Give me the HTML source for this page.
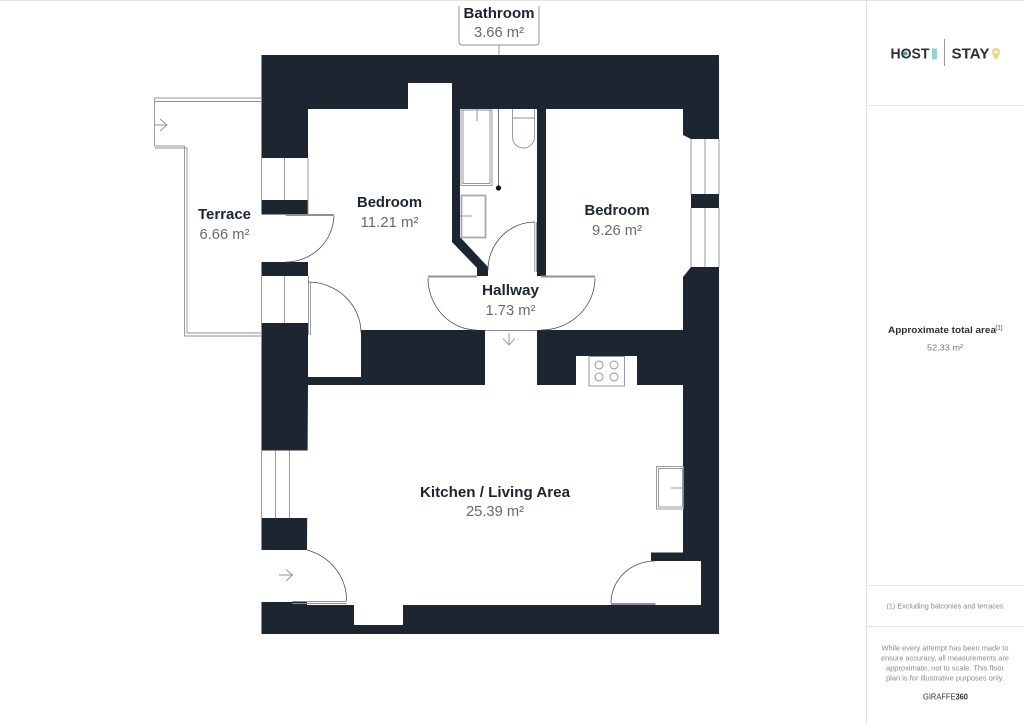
<!DOCTYPE html>
<html><head><meta charset="utf-8"><style>
html,body{margin:0;padding:0;background:#fff}
svg{display:block}
text{font-family:"Liberation Sans",sans-serif;text-anchor:middle}
.n{font-weight:bold;font-size:15px;fill:#1c2530}
.a{font-size:14.5px;fill:#666b70}
.l{fill:none;stroke:#8d9195;stroke-width:.9}
.d{fill:none;stroke:#4a5058;stroke-width:.8}
.s{font-size:7.4px;fill:#8a8a8a}
</style></head><body>
<svg width="1024" height="724" viewBox="0 0 1024 724" xmlns="http://www.w3.org/2000/svg">
<rect width="1024" height="724" fill="#fff"/>
<!-- walls -->
<rect x="261.5" y="55" width="457.5" height="579" fill="#1c2530"/>
<!-- left bedroom + hallway -->
<polygon fill="#fff" points="308,109 408,109 408,83 452,83 452,242 477,268 477,276 488,276 488,267 460,237 460,109 537,109 537,276 546,276 546,109 683,109 683,135 691,139 719,139 719,267 691,267 683,277 683,330 537,330 537,385 485,385 485,330 361,330 361,377 308,377"/>
<!-- kitchen -->
<polygon fill="#fff" points="308,385 576,385 576,356 637,356 637,385 683,385 683,552.500 651,552.500 651,561 701,561 701,605 403,605 403,625 354,625 354,605 307,605 307,602 261.500,602 261.500,550 307,550"/>
<polygon fill="#1c2530" points="537,276 546,276 546,109 537,109"/>
<!-- openings in left wall -->
<rect x="261.500" y="158" width="46.500" height="42" fill="#fff"/>
<rect x="261.500" y="214.500" width="47" height="47.500" fill="#fff"/>
<rect x="261.500" y="276" width="46.500" height="47" fill="#fff"/>
<rect x="261.500" y="450.500" width="46.500" height="67.500" fill="#fff"/>
<rect x="691" y="194" width="28" height="14" fill="#1c2530"/>
<!-- window lines -->
<path class="l" d="M261.500 158V200M284.500 158V200M308 158V214M261.500 276V323M284.500 276V323M261.500 450.500V518M275.500 450.500V518M289.500 450.500V518M691 139V194M691 208V267M705 139V194M705 208V267M719 139V194M719 208V267"/>
<!-- terrace -->
<path class="l" d="M261 98H154.500V146H184.500V336H261M261 101.500H155M155 148H187V333H261"/>
<path class="l" d="M155 125H167M160 119L167 125L160 131"/>
<!-- doors -->
<path class="l" d="M286 214.500H334M286 215.500H334"/>
<path class="d" d="M334 216A48 48 0 0 1 286 262"/>
<path class="l" d="M308.500 276V335M310.500 282V335"/>
<path class="d" d="M308 282A53 51 0 0 1 361 333"/>
<path class="l" d="M428 276H477M428 277H477"/>
<path class="d" d="M428 278A49 52 0 0 0 477 330"/>
<path class="l" d="M541 276H595M541 277H595"/>
<path class="d" d="M595 278A54 52 0 0 1 541 330"/>
<path class="l" d="M534.800 222V272M536.500 222V272"/>
<path class="d" d="M535 222A47 48 0 0 0 488 270"/>
<path class="l" d="M485 330.500H537.500"/>
<path class="l" d="M509 333V345M503 338.500L509 345L515 338.500"/>
<path class="l" d="M292.500 601.500H346.500M292.500 603.500H346.500"/>
<path class="d" d="M346.500 601A54 52 0 0 0 307 550"/>
<path class="l" d="M279 575H292.500M286 569.500L292.500 575L286 581"/>
<path class="l" d="M611 603.500H655.500M611 604.500H655.500"/>
<path class="d" d="M611 603A44 42 0 0 1 655 561"/>
<!-- bathroom fixtures -->
<rect class="l" x="461" y="110" width="31" height="75.500"/>
<rect class="l" x="463" y="110" width="27" height="73.500"/>
<path class="l" d="M477 109V121"/>
<path class="d" d="M498.500 109V188"/>
<circle cx="498.500" cy="188" r="2.600" fill="#111"/>
<path class="l" d="M512.500 109V137A11 11 0 0 0 534.500 137V109M512.500 118H534.500"/>
<rect x="461.500" y="195.500" width="24" height="42" fill="none" stroke="#a8abae" stroke-width="1.800"/>
<path class="l" d="M460 216H472"/>
<!-- hob -->
<rect class="l" x="589" y="356.500" width="35.500" height="29.500" fill="#fff"/>
<circle class="l" cx="599" cy="365" r="4"/><circle class="l" cx="614" cy="365" r="4"/>
<circle class="l" cx="599" cy="377" r="4"/><circle class="l" cx="614" cy="377" r="4"/>
<!-- fridge -->
<rect class="l" x="656.500" y="466.500" width="27" height="42.500"/>
<rect class="l" x="658.500" y="468.500" width="24" height="38.500"/>
<path class="l" d="M671 488H683"/>
<!-- bathroom label -->
<path class="l" d="M459 6V42Q459 45 462 45H536Q539 45 539 42V6M499 45V55"/>
<text class="n" x="499" y="18" textLength="71" lengthAdjust="spacingAndGlyphs">Bathroom</text>
<text class="a" x="499" y="37" textLength="50" lengthAdjust="spacingAndGlyphs">3.66 m²</text>
<text class="n" x="224.500" y="219" textLength="53" lengthAdjust="spacingAndGlyphs">Terrace</text>
<text class="a" x="224.500" y="239" textLength="50" lengthAdjust="spacingAndGlyphs">6.66 m²</text>
<text class="n" x="389.500" y="207" textLength="65" lengthAdjust="spacingAndGlyphs">Bedroom</text>
<text class="a" x="389.500" y="227" textLength="58" lengthAdjust="spacingAndGlyphs">11.21 m²</text>
<text class="n" x="617" y="215" textLength="65" lengthAdjust="spacingAndGlyphs">Bedroom</text>
<text class="a" x="617" y="235" textLength="50" lengthAdjust="spacingAndGlyphs">9.26 m²</text>
<text class="n" x="510.500" y="295" textLength="57" lengthAdjust="spacingAndGlyphs">Hallway</text>
<text class="a" x="510.500" y="315" textLength="50" lengthAdjust="spacingAndGlyphs">1.73 m²</text>
<text class="n" x="495" y="497" textLength="150" lengthAdjust="spacingAndGlyphs">Kitchen / Living Area</text>
<text class="a" x="495" y="516" textLength="58" lengthAdjust="spacingAndGlyphs">25.39 m²</text>
<!-- panel -->
<path fill="none" stroke="#e2e2e2" d="M866.500 0V724M867 105.500H1024M867 585.500H1024M867 626.500H1024M0 .5H1024"/>
<text x="910" y="58.500" style="font-weight:bold;font-size:15px;fill:#2c3036" textLength="39" lengthAdjust="spacingAndGlyphs">HOST</text>
<circle cx="905.500" cy="53.500" r="2" fill="#3fa6a6"/>
<rect x="932" y="48.500" width="5" height="11" fill="#8fd6cf"/>
<path stroke="#9a9a9a" d="M944.500 39V66"/>
<text x="970.500" y="58.500" style="font-weight:bold;font-size:15px;fill:#2c3036" textLength="38" lengthAdjust="spacingAndGlyphs">STAY</text>
<path d="M996 48a4 4 0 0 1 4 4c0 3-4 8-4 8s-4-5-4-8a4 4 0 0 1 4-4z" fill="#ecd48c"/>
<circle cx="996" cy="52" r="1.500" fill="#fff"/>
<text x="942" y="333" style="font-weight:bold;font-size:9.500px;fill:#2c3036" textLength="108" lengthAdjust="spacingAndGlyphs">Approximate total area</text>
<text x="999" y="329.500" style="font-size:6px;fill:#2c3036">(1)</text>
<text x="945" y="350.500" style="font-size:8.500px;fill:#777" textLength="36" lengthAdjust="spacingAndGlyphs">52.33 m²</text>
<text class="s" x="945" y="608.500" textLength="117" lengthAdjust="spacingAndGlyphs">(1) Excluding balconies and terraces</text>
<text class="s" x="945" y="650.500" textLength="127" lengthAdjust="spacingAndGlyphs">While every attempt has been made to</text>
<text class="s" x="945" y="660.500" textLength="128" lengthAdjust="spacingAndGlyphs">ensure accuracy, all measurements are</text>
<text class="s" x="945" y="670.500" textLength="118" lengthAdjust="spacingAndGlyphs">approximate, not to scale. This floor</text>
<text class="s" x="945" y="680.500" textLength="118" lengthAdjust="spacingAndGlyphs">plan is for illustrative purposes only.</text>
<text x="945.500" y="699.500" style="font-size:8px;fill:#333" textLength="45" lengthAdjust="spacingAndGlyphs">GIRAFFE<tspan font-weight="bold">360</tspan></text>
</svg>
</body></html>
